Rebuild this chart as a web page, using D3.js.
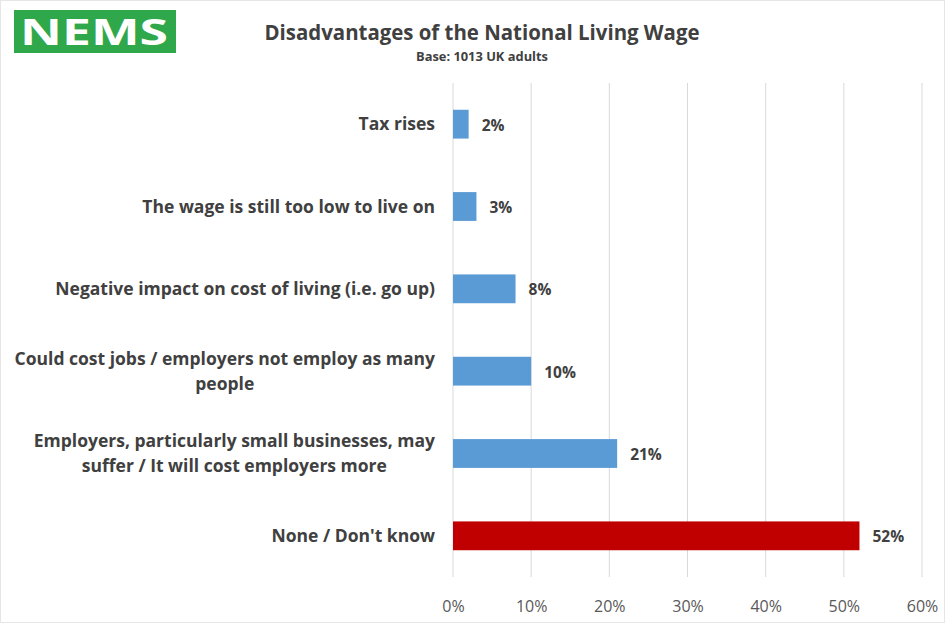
<!DOCTYPE html>
<html>
<head>
<meta charset="utf-8">
<script src="https://cdn.jsdelivr.net/npm/d3@7"></script>
<style>
  html, body { margin: 0; padding: 0; background: #fff; }
  svg { display: block; }
  text { font-family: "Open Sans", "Noto Sans", sans-serif; }
</style>
</head>
<body>
<svg id="chart" width="945" height="623"></svg>
<script>
// Survey answers, top to bottom, with their shares (%)
const categories = [
  ["Tax rises"],
  ["The wage is still too low to live on"],
  ["Negative impact on cost of living (i.e. go up)"],
  ["Could cost jobs / employers not employ as many", "people"],
  ["Employers, particularly small businesses, may", "suffer / It will cost employers more"],
  ["None / Don't know"]
];
const values = [2, 3, 8, 10, 21, 52];
const highlight = [false, false, false, false, false, true];
const xTicks = [0, 10, 20, 30, 40, 50, 60];

const svg = d3.select("#chart");
const W = 945, H = 623;

// outer frame
svg.append("rect").attr("x", 0.5).attr("y", 0.5).attr("width", W - 1).attr("height", H - 1)
  .attr("fill", "#fff").attr("stroke", "#e6e6e6");

// logo
const logo = svg.append("g");
logo.append("rect").attr("x", 14).attr("y", 10).attr("width", 162).attr("height", 43).attr("fill", "#2ea84a");
logo.append("text").attr("x", 94).attr("y", 45).attr("text-anchor", "middle")
  .attr("font-family", "DejaVu Sans, sans-serif").attr("font-weight", "bold")
  .attr("font-size", 36).attr("fill", "#fff").attr("textLength", 148).attr("lengthAdjust", "spacingAndGlyphs")
  .text("NEMS");

// titles
svg.append("text").attr("x", 482).attr("y", 40).attr("text-anchor", "middle")
  .attr("font-size", 20.5).attr("font-weight", "bold").attr("fill", "#404040")
  .attr("textLength", 435).attr("lengthAdjust", "spacingAndGlyphs")
  .text("Disadvantages of the National Living Wage");
svg.append("text").attr("x", 482).attr("y", 61).attr("text-anchor", "middle")
  .attr("font-size", 12).attr("font-weight", "bold").attr("fill", "#404040")
  .attr("textLength", 132).attr("lengthAdjust", "spacingAndGlyphs")
  .text("Base: 1013 UK adults");

const plotLeft = 453, plotRight = 922, plotTop = 83, plotBottom = 577;
const labelRight = 435;

const x = d3.scaleLinear().domain([0, 60]).range([plotLeft, plotRight]);
const y = d3.scaleBand().domain(d3.range(categories.length)).range([plotTop, plotBottom]).paddingInner(0.65).paddingOuter(0.325);

// vertical gridlines
svg.append("g").selectAll("line").data(xTicks).join("line")
  .attr("x1", d => x(d)).attr("x2", d => x(d))
  .attr("y1", plotTop).attr("y2", plotBottom)
  .attr("stroke", "#d9d9d9").attr("stroke-width", 1);

// x axis labels
const xAxis = d3.axisBottom(x).tickValues(xTicks).tickFormat(d => d + "%").tickSize(0).tickPadding(0);
const gx = svg.append("g").attr("transform", `translate(0,${plotBottom + 24})`).call(xAxis);
gx.select(".domain").remove();
gx.selectAll("text").attr("font-size", 16).attr("fill", "#595959")
  .attr("font-family", "Open Sans, sans-serif");

// bars
svg.append("g").selectAll("rect").data(values).join("rect")
  .attr("x", x(0)).attr("y", (d, i) => y(i))
  .attr("width", d => x(d) - x(0)).attr("height", y.bandwidth())
  .attr("fill", (d, i) => highlight[i] ? "#c00000" : "#5b9bd5");

// value labels
svg.append("g").selectAll("text").data(values).join("text")
  .attr("x", d => x(d) + 13).attr("y", (d, i) => y(i) + y.bandwidth() / 2 + 1)
  .attr("dy", "0.35em").attr("font-size", 15.5).attr("font-weight", "bold").attr("fill", "#404040")
  .text(d => d + "%");

// category labels: the text block is right aligned to the axis,
// and each line is centred within that block
const lab = svg.append("g").selectAll("text").data(categories).join("text")
  .attr("font-size", 17.5).attr("font-weight", "bold").attr("fill", "#404040")
  .attr("text-anchor", "middle");
lab.each(function(lines, i) {
  const cy = y(i) + y.bandwidth() / 2;
  const t = d3.select(this);
  const n = lines.length;
  const lh = 25;
  const spans = lines.map((s, k) => t.append("tspan")
    .attr("y", cy + (k - (n - 1) / 2) * lh)
    .attr("dy", "0.35em").text(s));
  const maxW = d3.max(spans, sp => sp.node().getComputedTextLength());
  spans.forEach(sp => sp.attr("x", labelRight - maxW / 2));
});
</script>
</body>
</html>
